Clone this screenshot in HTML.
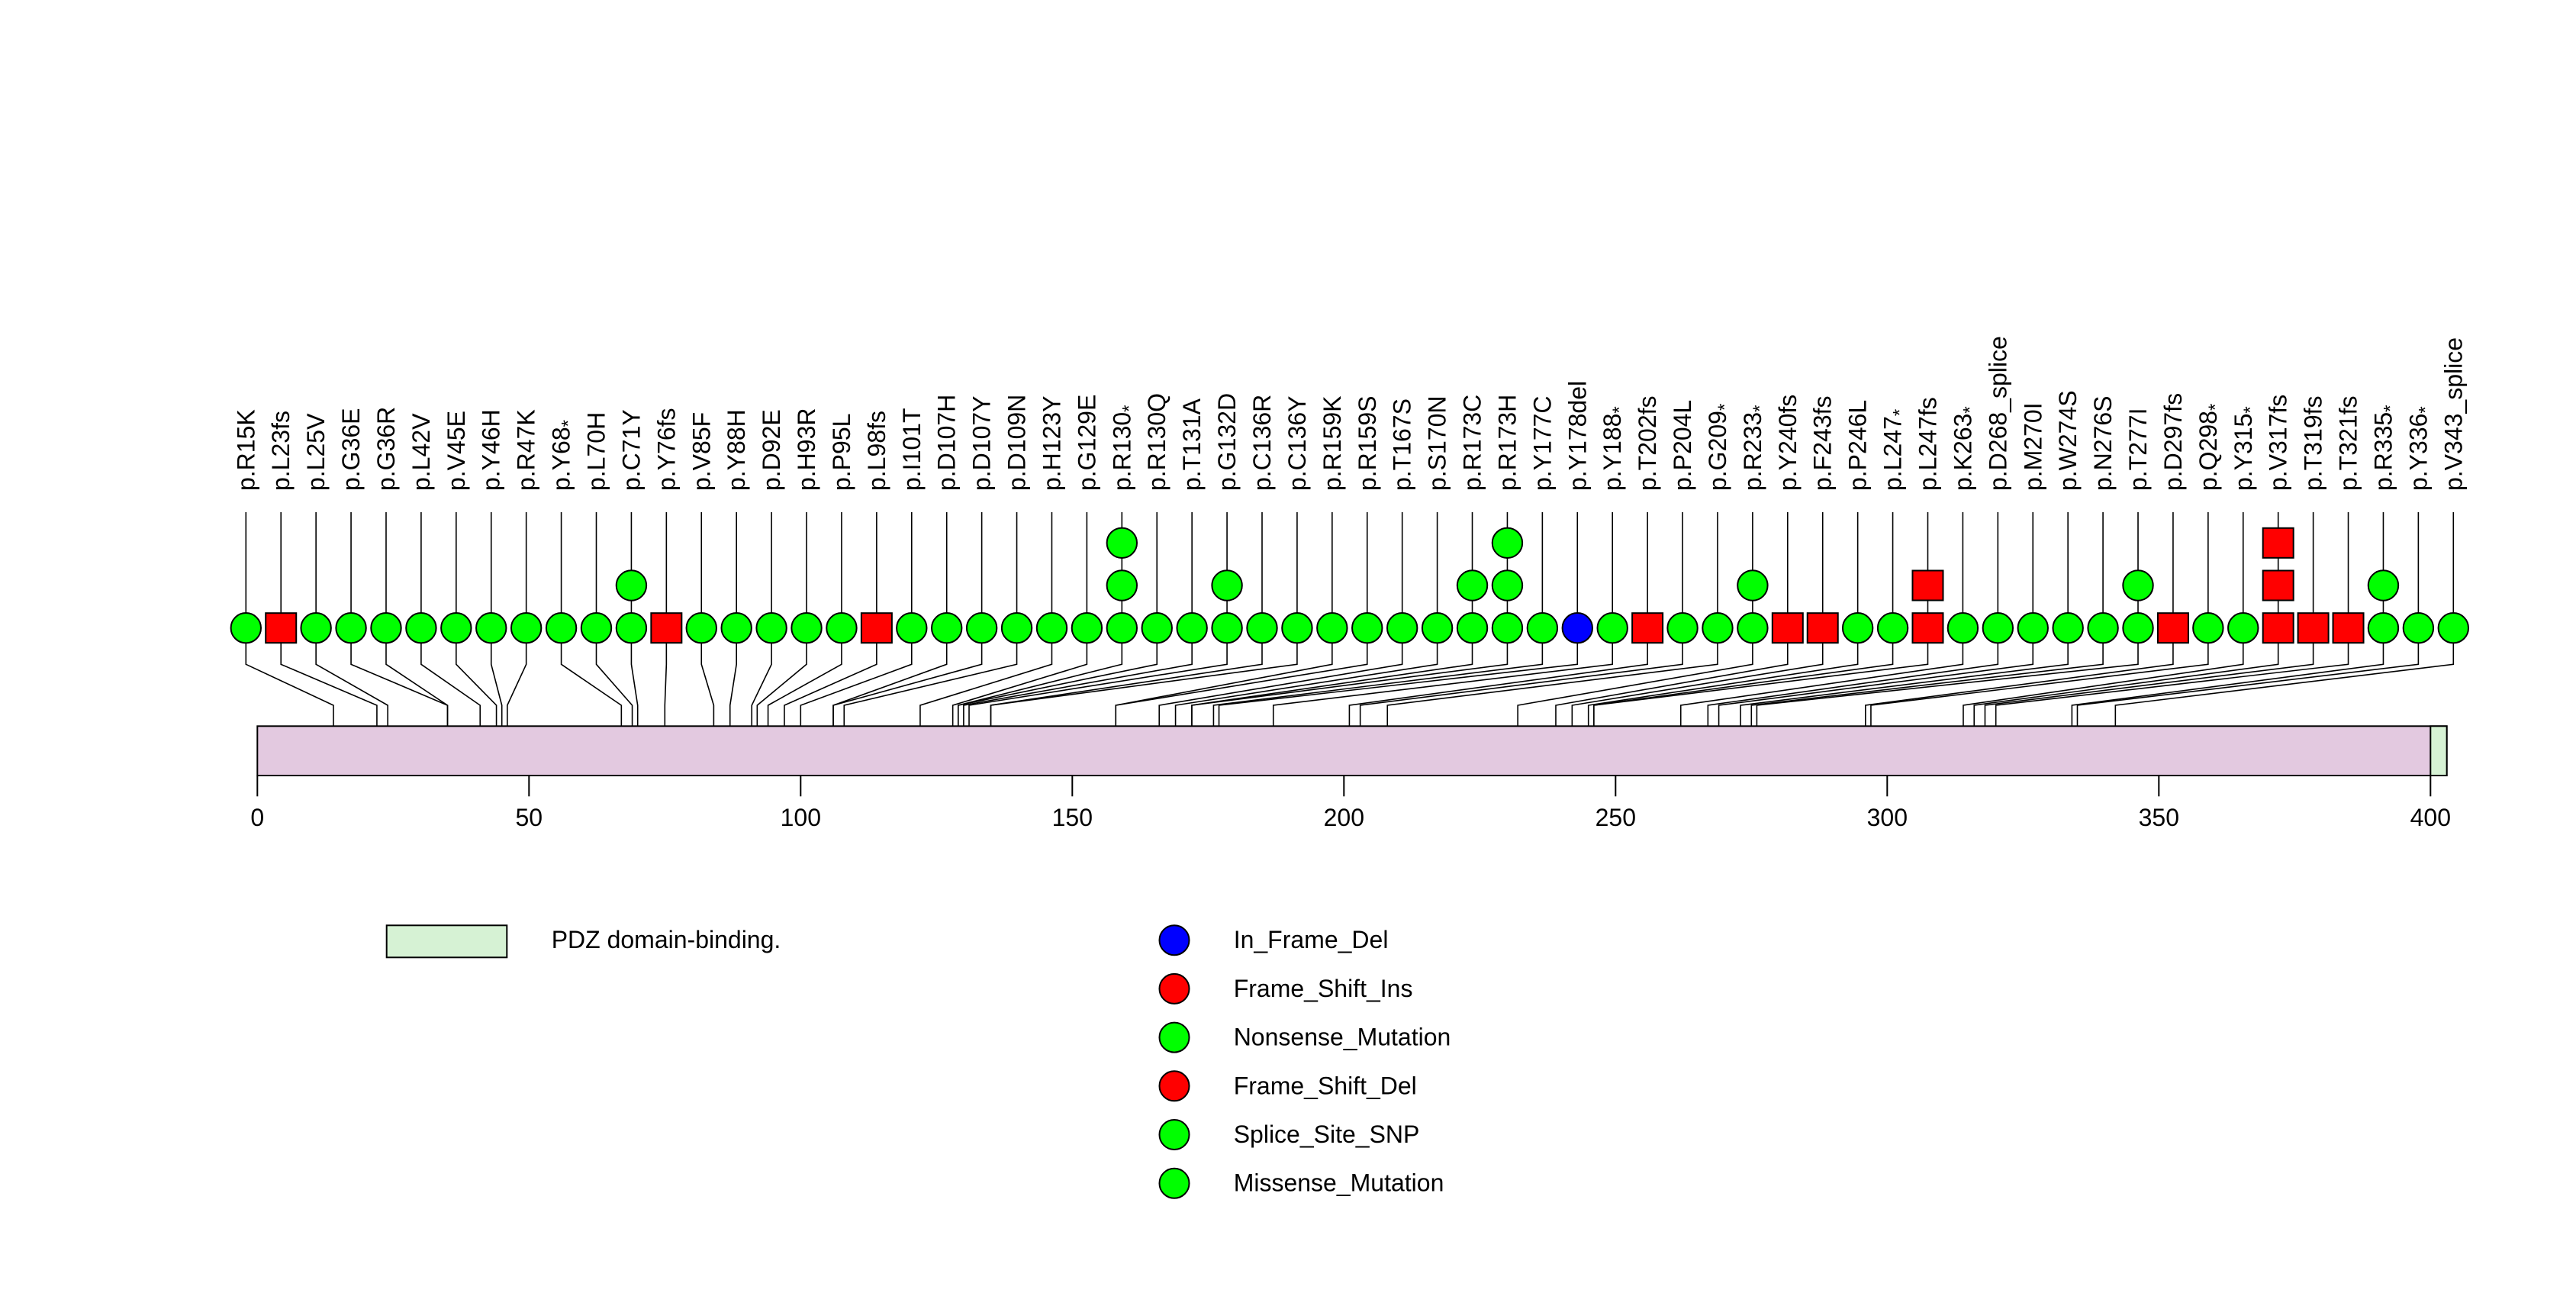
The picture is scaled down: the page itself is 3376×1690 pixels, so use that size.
<!DOCTYPE html>
<html><head><meta charset="utf-8"><style>
html,body{margin:0;padding:0;background:#fff}
svg{display:block}
text{font-family:"Liberation Sans",sans-serif;fill:#000}
</style></head><body>
<svg id="chart" xmlns="http://www.w3.org/2000/svg" width="3376" height="1690" viewBox="0 0 3376 1690">
<rect x="0" y="0" width="3376" height="1690" fill="#fff"/>
<g id="stems"></g><g id="bar"></g><g id="marks"></g><g id="labels"></g><g id="axis"></g><g id="legend"></g>
</svg>
<script>
const mutLabels = ["R15K","L23fs","L25V","G36E","G36R","L42V","V45E","Y46H","R47K","Y68*","L70H","C71Y","Y76fs","V85F","Y88H","D92E","H93R","P95L","L98fs","I101T","D107H","D107Y","D109N","H123Y","G129E","R130*","R130Q","T131A","G132D","C136R","C136Y","R159K","R159S","T167S","S170N","R173C","R173H","Y177C","Y178del","Y188*","T202fs","P204L","G209*","R233*","Y240fs","F243fs","P246L","L247*","L247fs","K263*","D268_splice","M270I","W274S","N276S","T277I","D297fs","Q298*","Y315*","V317fs","T319fs","T321fs","R335*","Y336*","V343_splice"];
const mutPositions = [15,23,25,36,36,42,45,46,47,68,70,71,76,85,88,92,93,95,98,101,107,107,109,123,129,130,130,131,132,136,136,159,159,167,170,173,173,177,178,188,202,204,209,233,240,243,246,247,247,263,268,270,274,276,277,297,298,315,317,319,321,335,336,343];
const mutCounts = [1,1,1,1,1,1,1,1,1,1,1,2,1,1,1,1,1,1,1,1,1,1,1,1,1,3,1,1,2,1,1,1,1,1,1,2,3,1,1,1,1,1,1,2,1,1,1,1,2,1,1,1,1,1,2,1,1,1,3,1,1,2,1,1];
const mutTypes = ["g","r","g","g","g","g","g","g","g","g","g","g","r","g","g","g","g","g","r","g","g","g","g","g","g","g","g","g","g","g","g","g","g","g","g","g","g","g","b","g","r","g","g","g","r","r","g","g","r","g","g","g","g","g","g","r","g","g","r","r","r","g","g","g"];
const axisTicks = [0,50,100,150,200,250,300,350,400];
const proteinLength = 403;
const domainStart = 400, domainEnd = 403;
const legendNames = ["In_Frame_Del","Frame_Shift_Ins","Nonsense_Mutation","Frame_Shift_Del","Splice_Site_SNP","Missense_Mutation"];
const legendColors = ["#0000FF","#FF0000","#00FF00","#FF0000","#00FF00","#00FF00"];

const NS="http://www.w3.org/2000/svg";
function el(tag,attrs,parent){const e=document.createElementNS(NS,tag);for(const k in attrs)e.setAttribute(k,attrs[k]);parent.appendChild(e);return e;}
const X0=337.3, PX=7.12;
function xProt(p){return X0+p*PX;}
const stemX0=322.3, stemDX=(3215.3-322.3)/63;
function xStem(i){return stemX0+i*stemDX;}
const ROW1=822.7, ROWD=55.7;
function yRow(k){return ROW1-k*ROWD;}
const colorMap={g:"#00FF00",r:"#FF0000",b:"#0000FF"};

const gS=document.getElementById('stems'),gB=document.getElementById('bar'),gM=document.getElementById('marks'),gL=document.getElementById('labels'),gA=document.getElementById('axis'),gLg=document.getElementById('legend');

// protein bar
const bar=el('rect',{x:xProt(0),y:951.3,width:xProt(proteinLength)-xProt(0),height:64.7,fill:"#E3C9E0",stroke:"#000","stroke-width":2},gB);


const dom=el('rect',{x:xProt(domainStart),y:951.3,width:xProt(domainEnd)-xProt(domainStart),height:64.7,fill:"#D6F2D4",stroke:"#000","stroke-width":2},gB);



mutLabels.forEach((lab,i)=>{
  const sx=xStem(i), px=xProt(mutPositions[i]-1);
  const top=yRow(mutCounts[i]-1);
  const stem=el('polyline',{points:`${sx},671 ${sx},870.3 ${px},924 ${px},1016`,fill:"none",stroke:"#000","stroke-width":1.6},gS);
  
  
  for(let k=0;k<mutCounts[i];k++){
    const y=yRow(k); let m;
    if(mutTypes[i]==="r"){
      m=el('rect',{x:sx-20,y:y-19.5,width:40,height:39,fill:colorMap.r,stroke:"#000","stroke-width":2},gM);
    } else {
      m=el('circle',{cx:sx,cy:y,r:19.7,fill:colorMap[mutTypes[i]],stroke:"#000","stroke-width":2},gM);
    }
    
    
  }
  const t=el('text',{transform:`translate(${sx+11},643) rotate(-90)`,"font-size":32},gL);
  
  
  if(lab.endsWith('*')){
    t.appendChild(document.createTextNode('p.'+lab.slice(0,-1)));
    const ts=el('tspan',{"font-size":24,dy:6},t); ts.textContent='*';
  } else t.textContent='p.'+lab;
});

// axis
const axl=el('line',{x1:xProt(0),y1:1016,x2:xProt(400),y2:1016,stroke:"#000","stroke-width":2},gA);


axisTicks.forEach(v=>{
  const tk=el('line',{x1:xProt(v),y1:1016,x2:xProt(v),y2:1043.3,stroke:"#000","stroke-width":2},gA);
  
  
  const tl=el('text',{x:xProt(v),y:1082,"font-size":32,"text-anchor":"middle"},gA);
  tl.textContent=String(v);
  
  
});

// legends
const pr=el('rect',{x:506.7,y:1212.3,width:157.6,height:42,fill:"#D6F2D4",stroke:"#000","stroke-width":2},gLg);


const pt=el('text',{x:722.7,y:1242,"font-size":32},gLg);
pt.textContent='PDZ domain-binding.';


legendNames.forEach((n,i)=>{
  const y=1231.7+i*63.7;
  const c=el('circle',{cx:1539,cy:y,r:19.5,fill:legendColors[i],stroke:"#000","stroke-width":2},gLg);
  
  
  const t=el('text',{x:1616.7,y:y+10.5,"font-size":32},gLg);
  t.textContent=n;
  
  
});
</script>
</body></html>
